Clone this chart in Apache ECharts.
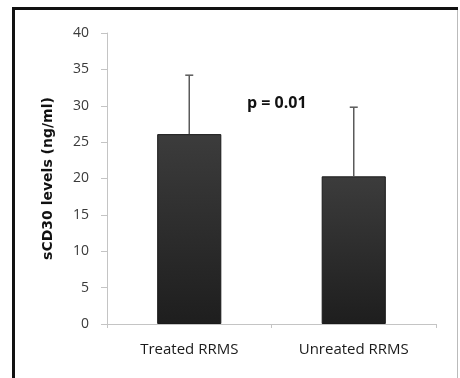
<!DOCTYPE html>
<html><head><meta charset="utf-8">
<script src="https://cdn.jsdelivr.net/npm/echarts@6/dist/echarts.min.js"></script>
<style>html,body{margin:0;padding:0;background:#fff}#c{width:460px;height:378px}</style>
</head><body><div id="c"></div>
<script>
const categories = ['Treated RRMS', 'Unreated RRMS'];
const meanValues = [26.1, 20.3];
const sdValues = [8.1, 9.5];
const yTicks = [0, 5, 10, 15, 20, 25, 30, 35, 40];
const pText = 'p = 0.01';

const chart = echarts.init(document.getElementById('c'), null, {renderer: 'canvas'});
const font = '"Open Sans", Lato, sans-serif';
chart.setOption({
  animation: false,
  backgroundColor: '#fff',
  grid: {left: 107, right: 24, top: 33, bottom: 54},
  xAxis: {
    type: 'category', data: categories,
    axisLine: {lineStyle: {color: '#c4c4c4', width: 1}},
    axisTick: {show: true, length: 4, lineStyle: {color: '#c4c4c4'}},
    axisLabel: {color: '#1a1a1a', fontSize: 15, fontFamily: font, margin: 18}
  },
  yAxis: {
    type: 'value', min: yTicks[0], max: yTicks[yTicks.length - 1], interval: 5,
    name: 'sCD30 levels (ng/ml)', nameLocation: 'middle', nameGap: 52,
    nameTextStyle: {fontWeight: 'bold', fontSize: 14, color: '#111', fontFamily: '"DejaVu Sans", sans-serif'},
    axisLine: {show: true, lineStyle: {color: '#c4c4c4', width: 1}},
    axisTick: {show: true, length: 6, lineStyle: {color: '#c4c4c4'}},
    splitLine: {show: false},
    axisLabel: {color: '#3a3a3a', fontSize: 14, fontFamily: font, margin: 18}
  },
  series: [{
    type: 'bar', data: meanValues, barWidth: '39%',
    itemStyle: {
      color: new echarts.graphic.LinearGradient(0, 0, 0, 1, [
        {offset: 0, color: '#3c3c3c'}, {offset: 1, color: '#1e1e1e'}]),
      borderColor: '#1a1a1a', borderWidth: 1
    }
  }, {
    type: 'custom',
    data: meanValues.map((m, i) => [i, m, m + sdValues[i]]),
    renderItem: function (params, api) {
      const lo = api.coord([api.value(0), api.value(1)]);
      const hi = api.coord([api.value(0), api.value(2)]);
      const st = {stroke: '#5a5a5a', lineWidth: 1.5};
      return {type: 'group', children: [
        {type: 'line', shape: {x1: lo[0], y1: lo[1], x2: hi[0], y2: hi[1]}, style: st},
        {type: 'line', shape: {x1: hi[0] - 4, y1: hi[1], x2: hi[0] + 4, y2: hi[1]}, style: st}
      ]};
    },
    z: 5
  }],
  graphic: [
    {type: 'rect', shape: {x: 12, y: 7, width: 446, height: 3}, style: {fill: '#111'}},
    {type: 'rect', shape: {x: 12, y: 7, width: 3, height: 371}, style: {fill: '#111'}},
    {type: 'rect', shape: {x: 457, y: 10, width: 1, height: 368}, style: {fill: '#bbb'}},
    {type: 'text', left: 247, top: 95, style: {text: pText, fontSize: 16, fontWeight: 'bold', fill: '#111', fontFamily: font}}
  ]
});
</script></body></html>
